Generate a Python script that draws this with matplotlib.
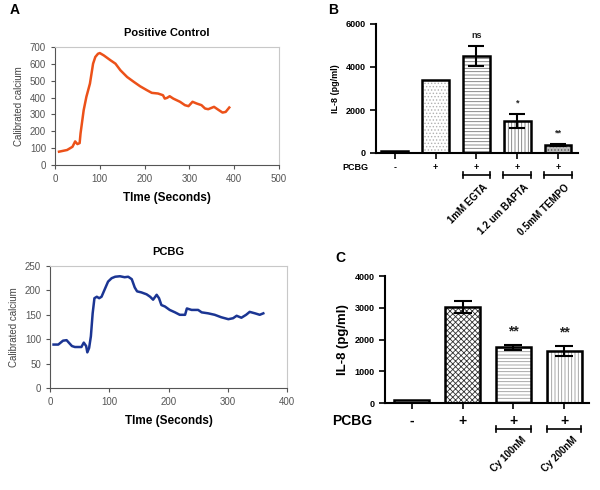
import numpy as np
import matplotlib
matplotlib.use("Agg")
import matplotlib.pyplot as plt

plt.rcParams['font.family'] = ['Liberation Sans', 'DejaVu Sans']
plt.rcParams['hatch.linewidth'] = 0.6

# ---- data ----
pc_t = [9, 27, 39, 45, 50, 55, 57, 64, 70, 78, 85, 90, 96, 100, 109, 124, 135, 146,
        161, 176, 190, 205, 216, 230, 241, 245, 250, 256, 264, 279, 290, 298, 307,
        316, 327, 335, 342, 355, 366, 374, 381, 389]
pc_ca = [79, 89, 108, 140, 124, 130, 187, 325, 404, 483, 601, 641, 660, 664, 650, 621,
         601, 562, 522, 493, 467, 444, 428, 424, 414, 394, 398, 408, 394, 375, 355, 349,
         375, 365, 355, 335, 331, 345, 325, 311, 315, 341]

pcbg_t = [6, 14, 22, 28, 37, 42, 53, 57, 61, 63, 66, 69, 72, 75, 79, 83, 87, 93, 98,
          104, 110, 118, 126, 132, 138, 143, 147, 154, 163, 169, 174, 180, 184, 188,
          194, 202, 211, 219, 228, 231, 239, 250, 256, 267, 278, 289, 301, 309, 315,
          323, 331, 337, 346, 354, 360]
pcbg_ca = [89, 89, 97, 98, 86, 84, 84, 93, 86, 73, 82, 106, 153, 184, 187, 184, 187,
           204, 218, 225, 228, 229, 227, 228, 223, 206, 198, 196, 192, 187, 181, 191,
           184, 170, 167, 160, 155, 150, 150, 163, 160, 160, 155, 153, 150, 145, 141,
           143, 148, 144, 150, 156, 153, 150, 153]

b_pcbg = ['-', '+', '+', '+', '+']
b_treat = ['', '', '1mM EGTA', '1.2 um BAPTA', '0.5mM TEMPO']
b_mean = [80, 3400, 4500, 1500, 380]
b_err = [0, 0, 460, 330, 50]
b_sig = ['', '', 'ns', '*', '**']

c_pcbg = ['-', '+', '+', '+']
c_treat = ['', '', 'Cy 100nM', 'Cy 200nM']
c_mean = [80, 3020, 1760, 1640]
c_err = [0, 200, 80, 170]
c_sig = ['', '', '**', '**']

W, H = 600, 490
fig = plt.figure(figsize=(6, 4.9), dpi=100)


def box(l, t, r, b):
    return [l / W, 1 - b / H, (r - l) / W, (b - t) / H]


def trace_axes(rect, t, ca, color, title, xmax, ymax, ystep):
    ax = fig.add_axes(box(*rect))
    ax.plot(t, ca, color=color, lw=1.8)
    ax.set_xlim(0, xmax)
    ax.set_ylim(0, ymax)
    ax.set_xticks(np.arange(0, xmax + 1, 100))
    ax.set_yticks(np.arange(0, ymax + 1, ystep))
    for s in ['top', 'right']:
        ax.spines[s].set_color('#c8c8c8')
    for s in ['left', 'bottom']:
        ax.spines[s].set_color('#555555')
    for s in ax.spines.values():
        s.set_linewidth(0.8)
    ax.tick_params(labelsize=7, colors='#555555', length=3, width=0.8, direction='out')
    ax.set_title(title, fontsize=8, fontweight='bold', pad=8)
    ax.set_xlabel('TIme (Seconds)', fontsize=8.5, fontweight='bold', labelpad=6)
    ax.set_ylabel('Calibrated calcium', fontsize=7, color='#444444')
    return ax


trace_axes((55, 47, 279, 165), pc_t, pc_ca, '#ec5119', 'Positive Control', 500, 700, 100)
trace_axes((50, 266, 287, 388), pcbg_t, pcbg_ca, '#1b3593', 'PCBG', 400, 250, 50)

fig.text(10 / W, 1 - 14 / H, 'A', fontsize=10, fontweight='bold')
fig.text(328 / W, 1 - 14 / H, 'B', fontsize=10, fontweight='bold')
fig.text(335 / W, 1 - 262 / H, 'C', fontsize=10, fontweight='bold')


def bar_panel(rect, xlim, mean, err, sig, pcbg, treat, styles, width, ymax, ystep,
              fs_tick, fs_lab, fs_ylab, fs_treat, rows):
    ax = fig.add_axes(box(*rect))
    x = np.arange(len(mean))
    for i in range(len(mean)):
        fc, hc, hatch = styles[i]
        ax.bar(x[i], mean[i], width, color=fc, edgecolor=hc, hatch=hatch, lw=0, zorder=1)
        ax.bar(x[i], mean[i], width, fill=False, edgecolor='black', lw=1.8, zorder=2)
        if err[i]:
            ax.errorbar(x[i], mean[i], yerr=err[i], fmt='none', ecolor='black',
                        elinewidth=1.5, capsize=width * 9, capthick=1.5, zorder=3)
        if sig[i]:
            ax.text(x[i], mean[i] + err[i] + ymax * 0.05, sig[i], ha='center', va='bottom',
                    fontsize=fs_lab, fontweight='bold', color='#222222')
    ax.set_xlim(*xlim)
    ax.set_ylim(0, ymax)
    ax.set_yticks(np.arange(0, ymax + 1, ystep))
    ax.set_xticks(x)
    ax.set_xticklabels([])
    ax.spines['top'].set_visible(False)
    ax.spines['right'].set_visible(False)
    ax.spines['left'].set_linewidth(1.5)
    ax.spines['bottom'].set_linewidth(1.5)
    ax.tick_params(axis='y', labelsize=fs_tick, width=1.2, length=4)
    ax.tick_params(axis='x', width=1.2, length=4)
    for lab in ax.get_yticklabels():
        lab.set_fontweight('bold')
    ax.set_ylabel('IL-8 (pg/ml)', fontsize=fs_ylab, fontweight='bold')
    tr = ax.get_xaxis_transform()
    y_pm, y_br, y_tx, x_pc = rows
    ax.text(x_pc, y_pm, 'PCBG', transform=tr, ha='center', va='center',
            fontsize=fs_lab, fontweight='bold')
    for i in range(len(mean)):
        ax.text(x[i], y_pm, pcbg[i], transform=tr, ha='center', va='center',
                fontsize=fs_lab, fontweight='bold')
        if treat[i]:
            half = 0.34
            ax.plot([x[i] - half, x[i] + half], [y_br, y_br], color='black', lw=1.2,
                    transform=tr, clip_on=False)
            for e in (x[i] - half, x[i] + half):
                ax.plot([e, e], [y_br - 0.025, y_br + 0.025], color='black', lw=1.2,
                        transform=tr, clip_on=False)
            ax.text(x[i] + 0.15, y_tx, treat[i], transform=tr, rotation=45,
                    rotation_mode='anchor', ha='right', va='top',
                    fontsize=fs_treat, fontweight='bold')
    return ax


b_styles = [('white', '#999999', '....'),
            ('white', '#b0b0b0', '.....'),
            ('white', '#777777', '-----'),
            ('white', '#777777', '|||||'),
            ('#bbbbbb', '#555555', '.....')]
bar_panel((376, 24, 578, 153), (-0.46, 4.49), b_mean, b_err, b_sig, b_pcbg, b_treat,
          b_styles, 0.66, 6000, 2000, 6.5, 6.5, 6.5, 7,
          (-0.11, -0.17, -0.23, -0.97))

c_styles = [('white', '#888888', '....'),
            ('white', '#333333', 'xxxxxx'),
            ('white', '#999999', '-----'),
            ('white', '#999999', '|||||')]
bar_panel((385, 276, 589, 403), (-0.53, 3.49), c_mean, c_err, c_sig, c_pcbg, c_treat,
          c_styles, 0.69, 4000, 1000, 6.5, 10, 9.5, 7,
          (-0.14, -0.205, -0.25, -1.18))

fig.savefig('out.png', dpi=100)
